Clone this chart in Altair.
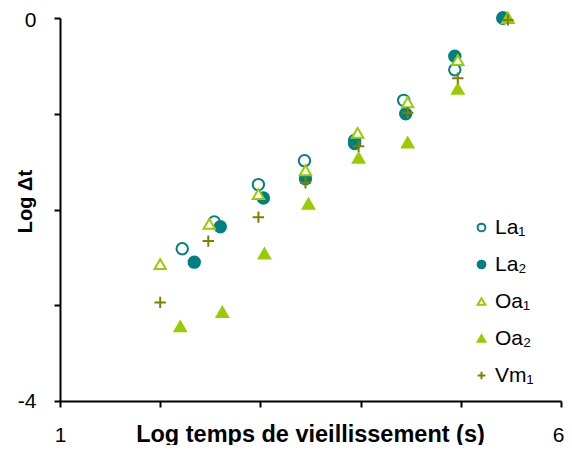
import altair as alt
import pandas as pd

series = ["La₁", "La₂", "Oa₁", "Oa₂", "Vm₁"]

la1_x = [2.22, 2.54, 2.98, 3.44, 3.94, 4.43, 4.94, 5.42]
la1_y = [-2.41, -2.13, -1.74, -1.49, -1.28, -0.86, -0.54, 0.0]
la2_x = [2.34, 2.60, 3.03, 3.45, 3.94, 4.45, 4.94, 5.42]
la2_y = [-2.55, -2.18, -1.88, -1.68, -1.31, -1.00, -0.40, 0.0]
oa1_x = [2.00, 2.49, 2.98, 3.45, 3.97, 4.47, 4.97, 5.47]
oa1_y = [-2.57, -2.15, -1.84, -1.59, -1.20, -0.88, -0.44, 0.0]
oa2_x = [2.20, 2.62, 3.04, 3.48, 3.98, 4.47, 4.97, 5.47]
oa2_y = [-3.22, -3.07, -2.46, -1.94, -1.46, -1.30, -0.74, 0.0]
vm1_x = [2.00, 2.48, 2.98, 3.45, 3.98, 4.47, 4.97, 5.47]
vm1_y = [-2.97, -2.33, -2.08, -1.72, -1.34, -0.99, -0.63, -0.02]

xs = [la1_x, la2_x, oa1_x, oa2_x, vm1_x]
ys = [la1_y, la2_y, oa1_y, oa2_y, vm1_y]

rows = []
for i, name in enumerate(series):
    for xv, yv in zip(xs[i], ys[i]):
        rows.append({"serie": name, "order": i, "x": xv, "y": yv})
df = pd.DataFrame(rows)

TEAL = "#008080"
GREEN = "#99CC00"
OLIVE = "#808000"
PLUS = "M-1,0H1M0,-1V1"

chart = alt.Chart(df).mark_point(filled=False, size=130, strokeWidth=2, opacity=1, clip=False).encode(
    x=alt.X("x:Q", scale=alt.Scale(domain=[1, 6], nice=False, zero=False),
            axis=alt.Axis(title="Log temps de vieillissement (s)", values=[1, 2, 3, 4, 5, 6],
                          labelExpr="datum.value == 1 ? '1' : datum.value == 6 ? '6' : ''",
                          grid=False, domainColor="black", domainWidth=2, tickColor="black",
                          tickWidth=2, tickSize=6, labelPadding=34, labelFontSize=21,
                          labelBaseline="alphabetic",
                          labelOffset={"expr": "datum.value == 6 ? -3 : 0"},
                          labelFont="Liberation Sans", labelColor="black",
                          labelFlush=False, labelOverlap=False,
                          titleFont="Liberation Sans", titleFontSize=23.5, titleFontWeight="bold",
                          titleColor="black", titleX=250, titleY=40,
                          titleBaseline="alphabetic")),
    y=alt.Y("y:Q", scale=alt.Scale(domain=[-4, 0], nice=False, zero=False),
            axis=alt.Axis(title="Log Δt", values=[-4, -3, -2, -1, 0],
                          labelExpr="datum.value == 0 ? '0' : datum.value == -4 ? '-4' : ''",
                          grid=False, domainColor="black", domainWidth=2, tickColor="black",
                          tickWidth=2, tickSize=6, labelPadding=18, labelFontSize=21,
                          labelOffset={"expr": "datum.value == 0 ? 2 : 0"},
                          labelFont="Liberation Sans", labelColor="black",
                          labelFlush=False, labelOverlap=False,
                          titleFont="Liberation Sans", titleFontSize=20, titleFontWeight="bold",
                          titleColor="black", titleX=-35, titleY=183, titleAngle=-90,
                          titleAlign="center", titleBaseline="middle")),
    shape=alt.Shape("serie:N", scale=alt.Scale(domain=series,
                    range=["circle", "circle", "triangle-up", "triangle-up", PLUS]),
                    legend=alt.Legend(title=None, orient="none", legendX=411, legendY=199,
                                      labelFontSize=21, labelFont="Liberation Sans",
                                      labelColor="black", symbolSize=60, symbolStrokeWidth=2,
                                      rowPadding=15, padding=0, labelOffset=3)),
    color=alt.Color("serie:N", scale=alt.Scale(domain=series,
                    range=[TEAL, TEAL, GREEN, GREEN, OLIVE])),
    fill=alt.Fill("serie:N", scale=alt.Scale(domain=series,
                  range=["white", TEAL, "white", GREEN, OLIVE])),
    order=alt.Order("order:Q"),
).properties(
    width=501, height=383,
    padding={"left": 52, "top": 10, "right": 3, "bottom": 44},
    autosize=alt.AutoSizeParams(type="none"),
).configure_view(stroke=None)

chart.save("out.html", embed_options={"renderer": "svg", "actions": False})
